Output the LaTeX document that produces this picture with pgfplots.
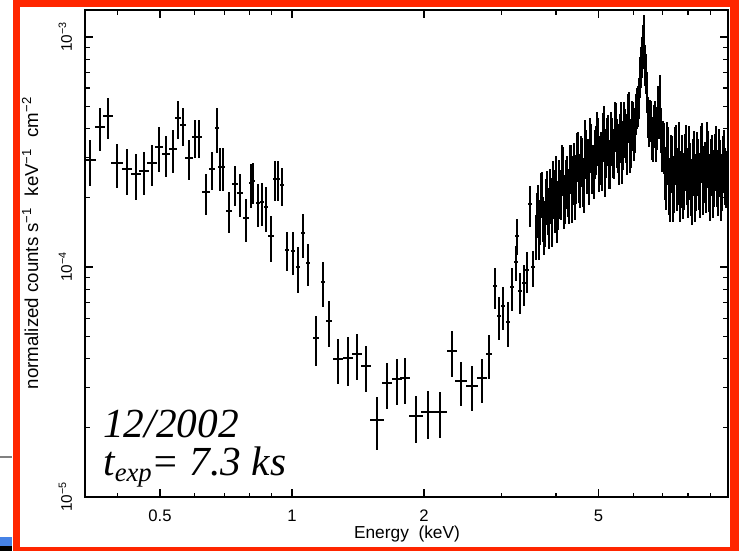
\documentclass[border=0pt]{standalone}
\usepackage{fontspec}
\setmainfont{Liberation Sans}
\newfontfamily\serifit{Liberation Serif}
\usepackage{pgfplots}
\pgfplotsset{compat=1.18}
\usepackage{pgfplotstable}
\definecolor{framered}{RGB}{255,38,0}
\definecolor{slideblue}{RGB}{70,130,230}

\pgfplotstableread{
E F dE dF
0.3462 2.91e-4 0.032 0.23
0.3648 4.05e-4 0.028 0.21
0.3805 4.52e-4 0.025 0.20
0.3990 2.82e-4 0.030 0.22
0.4205 2.66e-4 0.028 0.225
0.4408 2.53e-4 0.026 0.23
0.4597 2.61e-4 0.025 0.215
0.4795 2.82e-4 0.025 0.205
0.4975 3.32e-4 0.022 0.22
0.5161 3.09e-4 0.022 0.205
0.5354 3.25e-4 0.020 0.215
0.5496 4.43e-4 0.015 0.19
0.5642 4.13e-4 0.015 0.19
0.5823 2.97e-4 0.020 0.195
0.6009 3.66e-4 0.015 0.19
0.6137 3.66e-4 0.015 0.19
0.6366 2.11e-4 0.020 0.20
0.6570 2.66e-4 0.015 0.19
0.6745 4.01e-4 0.010 0.22
0.6852 2.71e-4 0.010 0.21
0.6961 2.71e-4 0.012 0.21
0.7184 1.76e-4 0.018 0.20
0.7414 2.29e-4 0.015 0.195
0.7611 2.09e-4 0.015 0.21
0.7855 1.63e-4 0.018 0.21
0.8064 2.31e-4 0.012 0.22
0.8149 2.36e-4 0.012 0.205
0.8365 1.89e-4 0.012 0.21
0.8543 1.91e-4 0.012 0.21
0.8724 1.82e-4 0.012 0.22
0.8956 1.36e-4 0.015 0.225
0.9146 2.41e-4 0.010 0.20
0.9291 2.41e-4 0.010 0.20
0.9488 2.27e-4 0.010 0.19
0.9741 1.19e-4 0.012 0.19
1.0053 1.17e-4 0.012 0.21
1.0320 9.97e-5 0.012 0.225
1.0595 1.40e-4 0.012 0.215
1.0877 1.04e-4 0.012 0.205
1.1769 8.58e-5 0.012 0.22
1.1345 4.90e-5 0.018 0.245
1.2145 5.81e-5 0.015 0.225
1.2731 3.97e-5 0.026 0.22
1.3418 4.01e-5 0.025 0.24
1.4062 4.17e-5 0.025 0.225
1.4742 3.70e-5 0.025 0.225
1.5620 2.16e-5 0.037 0.26
1.6469 3.12e-5 0.025 0.225
1.7357 3.25e-5 0.025 0.23
1.8102 3.28e-5 0.025 0.225
1.9178 2.24e-5 0.037 0.23
2.0428 2.34e-5 0.035 0.235
2.1752 2.34e-5 0.038 0.225
2.3172 4.30e-5 0.025 0.225
2.4292 3.18e-5 0.030 0.22
2.5736 3.03e-5 0.030 0.22
2.7123 3.28e-5 0.025 0.215
2.8137 4.17e-5 0.015 0.22
2.9037 8.24e-5 0.012 0.20
2.9653 6.10e-5 0.010 0.21
3.0283 6.75e-5 0.010 0.21
3.1088 5.75e-5 0.010 0.22
3.1748 8.16e-5 0.010 0.21
3.2422 1.05e-4 0.008 0.17
3.2593 1.37e-4 0.008 0.18
3.3110 7.84e-5 0.008 0.20
3.3813 8.49e-5 0.008 0.20
3.4351 9.68e-5 0.008 0.20
3.4896 1.87e-4 0.008 0.20
3.5450 9.97e-5 0.008 0.18
3.601 1.38e-4 0.005 0.22
3.620 1.72e-4 0.005 0.22
3.639 1.87e-4 0.005 0.22
3.658 1.38e-4 0.005 0.22
3.677 1.60e-4 0.005 0.22
3.696 2.10e-4 0.005 0.22
3.716 2.12e-4 0.005 0.22
3.736 1.65e-4 0.005 0.22
3.756 1.47e-4 0.005 0.23
3.776 1.58e-4 0.005 0.23
3.795 1.97e-4 0.005 0.23
3.815 2.12e-4 0.005 0.23
3.835 1.79e-4 0.005 0.23
3.855 1.56e-4 0.005 0.23
3.876 2.16e-4 0.005 0.23
3.896 1.99e-4 0.005 0.23
3.917 1.60e-4 0.005 0.24
3.938 2.33e-4 0.005 0.24
3.958 2.12e-4 0.005 0.24
3.979 1.85e-4 0.005 0.24
4.000 2.45e-4 0.005 0.24
4.021 1.68e-4 0.005 0.24
4.042 1.91e-4 0.005 0.24
4.063 2.36e-4 0.005 0.24
4.085 2.12e-4 0.005 0.24
4.107 2.10e-4 0.005 0.24
4.128 2.74e-4 0.005 0.24
4.150 2.68e-4 0.005 0.24
4.172 1.93e-4 0.005 0.24
4.194 2.03e-4 0.005 0.24
4.216 2.36e-4 0.005 0.24
4.238 2.45e-4 0.005 0.24
4.261 2.16e-4 0.005 0.24
4.283 2.03e-4 0.005 0.24
4.306 2.74e-4 0.005 0.24
4.329 2.74e-4 0.005 0.24
4.351 2.05e-4 0.005 0.24
4.374 2.45e-4 0.005 0.24
4.397 2.79e-4 0.005 0.24
4.420 2.10e-4 0.005 0.24
4.443 2.47e-4 0.005 0.24
4.466 3.09e-4 0.005 0.24
4.490 3.12e-4 0.005 0.24
4.514 2.50e-4 0.005 0.24
4.537 2.38e-4 0.005 0.24
4.561 3.00e-4 0.005 0.24
4.585 2.94e-4 0.005 0.24
4.609 2.41e-4 0.005 0.24
4.634 2.26e-4 0.005 0.24
4.658 3.52e-4 0.005 0.24
4.683 3.19e-4 0.005 0.24
4.708 2.74e-4 0.005 0.24
4.733 2.91e-4 0.005 0.24
4.758 2.45e-4 0.005 0.24
4.783 3.60e-4 0.005 0.24
4.808 3.38e-4 0.005 0.24
4.833 2.74e-4 0.005 0.24
4.858 2.74e-4 0.005 0.24
4.884 2.60e-4 0.005 0.24
4.910 3.19e-4 0.005 0.24
4.935 3.32e-4 0.005 0.24
4.961 3.81e-4 0.005 0.24
4.987 3.60e-4 0.005 0.24
5.013 2.79e-4 0.005 0.24
5.040 3.00e-4 0.005 0.24
5.067 3.12e-4 0.005 0.24
5.093 2.82e-4 0.005 0.24
5.120 3.78e-4 0.005 0.24
5.147 4.05e-4 0.005 0.24
5.174 2.66e-4 0.005 0.24
5.202 3.22e-4 0.005 0.24
5.229 3.60e-4 0.005 0.24
5.257 3.70e-4 0.005 0.24
5.285 2.88e-4 0.005 0.24
5.312 2.88e-4 0.005 0.24
5.340 3.81e-4 0.005 0.24
5.368 3.60e-4 0.005 0.24
5.396 3.22e-4 0.005 0.24
5.425 3.16e-4 0.005 0.24
5.454 4.21e-4 0.005 0.24
5.482 4.17e-4 0.005 0.24
5.511 3.56e-4 0.005 0.24
5.540 3.38e-4 0.005 0.24
5.569 3.00e-4 0.005 0.24
5.599 3.74e-4 0.005 0.24
5.629 4.21e-4 0.005 0.24
5.658 3.03e-4 0.005 0.24
5.688 3.49e-4 0.005 0.24
5.718 4.21e-4 0.005 0.24
5.748 3.93e-4 0.005 0.24
5.778 3.74e-4 0.005 0.24
5.808 3.32e-4 0.005 0.24
5.839 4.56e-4 0.005 0.24
5.870 4.66e-4 0.005 0.24
5.901 3.38e-4 0.005 0.24
5.932 3.56e-4 0.005 0.24
5.963 4.25e-4 0.005 0.24
5.994 4.21e-4 0.005 0.24
6.026 3.81e-4 0.005 0.24
6.058 4.01e-4 0.005 0.22
6.089 4.70e-4 0.005 0.20
6.121 5.00e-4 0.005 0.20
6.153 5.10e-4 0.005 0.20
6.185 5.52e-4 0.005 0.20
6.218 6.81e-4 0.005 0.20
6.251 7.53e-4 0.005 0.20
6.284 8.31e-4 0.005 0.20
6.317 9.27e-4 0.005 0.22
6.350 1.02e-3 0.005 0.22
6.383 7.68e-4 0.005 0.20
6.418 7.03e-4 0.005 0.20
6.452 5.87e-4 0.005 0.20
6.485 4.56e-4 0.005 0.20
6.519 4.17e-4 0.005 0.20
6.554 4.43e-4 0.005 0.20
6.589 4.38e-4 0.005 0.20
6.623 3.70e-4 0.005 0.21
6.658 3.63e-4 0.005 0.21
6.693 4.17e-4 0.005 0.21
6.728 4.34e-4 0.005 0.21
6.764 3.63e-4 0.005 0.21
6.800 4.09e-4 0.005 0.21
6.836 5.04e-4 0.005 0.21
6.872 4.56e-4 0.005 0.21
6.908 5.58e-4 0.005 0.22
6.944 4.01e-4 0.005 0.22
6.981 3.35e-4 0.005 0.23
7.018 3.49e-4 0.005 0.24
7.054 3.38e-4 0.005 0.25
7.091 2.63e-4 0.005 0.26
7.129 2.45e-4 0.005 0.28
7.167 3.35e-4 0.005 0.28
7.205 3.16e-4 0.005 0.28
7.243 2.33e-4 0.005 0.28
7.281 2.19e-4 0.005 0.28
7.319 2.94e-4 0.005 0.28
7.357 2.91e-4 0.005 0.28
7.396 2.18e-4 0.005 0.28
7.435 2.38e-4 0.005 0.28
7.474 3.16e-4 0.005 0.28
7.513 3.25e-4 0.005 0.28
7.553 2.43e-4 0.005 0.28
7.593 2.58e-4 0.005 0.28
7.633 3.32e-4 0.005 0.28
7.673 2.19e-4 0.005 0.28
7.713 2.50e-4 0.005 0.28
7.754 2.94e-4 0.005 0.28
7.795 2.24e-4 0.005 0.28
7.835 2.45e-4 0.005 0.28
7.876 2.97e-4 0.005 0.28
7.918 3.25e-4 0.005 0.28
7.960 2.58e-4 0.005 0.28
8.001 2.28e-4 0.005 0.28
8.043 3.19e-4 0.005 0.28
8.086 2.71e-4 0.005 0.28
8.129 2.31e-4 0.005 0.28
8.171 2.12e-4 0.005 0.28
8.214 2.82e-4 0.005 0.28
8.257 3.06e-4 0.005 0.28
8.301 2.18e-4 0.005 0.28
8.345 2.43e-4 0.005 0.28
8.389 3.03e-4 0.005 0.28
8.433 2.82e-4 0.005 0.28
8.477 2.45e-4 0.005 0.28
8.522 2.26e-4 0.005 0.28
8.567 3.22e-4 0.005 0.28
8.612 3.29e-4 0.005 0.28
8.657 2.33e-4 0.005 0.28
8.703 2.63e-4 0.005 0.28
8.749 2.74e-4 0.005 0.28
8.795 2.38e-4 0.005 0.28
8.841 3.32e-4 0.005 0.28
8.888 3.06e-4 0.005 0.28
8.935 2.41e-4 0.005 0.28
8.982 2.21e-4 0.005 0.28
9.029 2.82e-4 0.005 0.28
9.076 2.94e-4 0.005 0.28
9.124 2.26e-4 0.005 0.28
9.172 2.53e-4 0.005 0.28
9.220 2.97e-4 0.005 0.28
9.267 3.19e-4 0.005 0.28
9.316 2.53e-4 0.005 0.28
9.365 2.31e-4 0.005 0.28
9.414 3.12e-4 0.005 0.28
9.464 2.79e-4 0.005 0.28
9.514 2.21e-4 0.005 0.28
9.564 2.43e-4 0.005 0.28
9.614 2.91e-4 0.005 0.28
9.665 3.09e-4 0.005 0.28
9.716 2.58e-4 0.005 0.28
9.767 2.50e-4 0.005 0.28
}\spec

\begin{document}
\begin{tikzpicture}[x=0.75pt,y=0.75pt]
\path[use as bounding box] (0,0) rectangle (739,551);
\fill[framered] (13,0) rectangle (739,551);
\fill[white] (20,4) rectangle (730,544);
\fill[slideblue] (0,5) rectangle (12,14);
\fill[black] (0,0) rectangle (12,5);
\draw[gray, line width=1.2pt] (0,94) -- (12,94);
\begin{axis}[
  at={(63.75pt,40.5pt)}, anchor=south west, scale only axis,
  width=482.25pt, height=365.25pt,
  xmode=log, ymode=log,
  xmin=0.3372, xmax=9.87, ymin=1e-5, ymax=1.31e-3,
  xtick={0.5,1,2,5}, xticklabels={0.5,1,2,5},
  minor xtick={0.4,0.6,0.7,0.8,0.9,3,4,6,7,8,9},
  ytick={1e-5,1e-4,1e-3},
  yticklabels={10\textsuperscript{−5},10\textsuperscript{−4},10\textsuperscript{−3}},
  minor ytick={2e-5,3e-5,4e-5,5e-5,6e-5,7e-5,8e-5,9e-5,2e-4,3e-4,4e-4,5e-4,6e-4,7e-4,8e-4,9e-4},
  tick align=inside,
  major tick length=6pt, minor tick length=3.4pt,
  axis line style={line width=0.9pt},
  every tick/.style={black, line width=0.8pt},
  xticklabel style={font=\fontsize{12.5}{14}\selectfont, anchor=base, yshift=-18pt},
  yticklabel style={font=\fontsize{11.5}{13}\selectfont, xshift=-9.75pt, rotate=90, anchor=base},
]
\addplot[draw=none, mark=none,
  error bars/.cd, x dir=both, x explicit relative, y dir=both, y explicit relative,
  error mark=none, error bar style={draw=black, line width=1.5pt}]
  table[x=E, y=F, x error=dE, y error=dF] {\spec};
\end{axis}
\node[anchor=base west, inner sep=0pt, font=\serifit\itshape\fontsize{31}{31}\selectfont] at (103,114) {12/2002};
\node[anchor=base west, inner sep=0pt, font=\serifit\itshape\fontsize{31}{31}\selectfont] at (103,76) {t\raisebox{-5pt}{\fontsize{20}{20}\selectfont exp}= 7.3 ks};
\node[anchor=base, inner sep=0pt, font=\fontsize{13}{15}\selectfont] at (407,13) {Energy\ \ (keV)};
\node[anchor=base, inner sep=0pt, rotate=90, font=\fontsize{14}{16}\selectfont] at (38,308) {normalized counts s\textsuperscript{−1}\hspace{0.6em}keV\textsuperscript{−1}\hspace{0.6em}cm\textsuperscript{−2}};
\end{tikzpicture}
\end{document}
